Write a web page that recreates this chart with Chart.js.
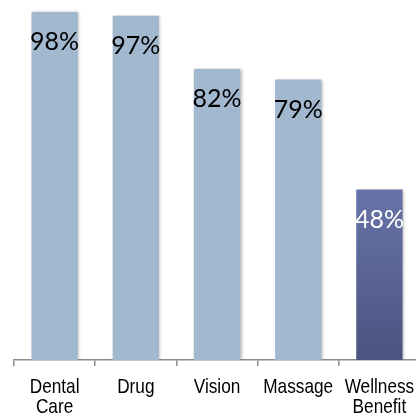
<!DOCTYPE html>
<html>
<head>
<meta charset="utf-8">
<script src="https://cdn.jsdelivr.net/npm/chart.js@4/dist/chart.umd.min.js"></script>
<style>
  html, body { margin: 0; padding: 0; background: #fff; overflow: hidden; }
  #chart { display: block; }
</style>
</head>
<body>
<canvas id="chart" width="420" height="420"></canvas>
<script>
// Chart data
const categories = [['Dental', 'Care'], ['Drug'], ['Vision'], ['Massage'], ['Wellness', 'Benefit']];
const percentValues = [98, 97, 82, 79, 48];
const valueLabels = ['98%', '97%', '82%', '79%', '48%'];
const highlightIndex = 4;

// Colors
const lightBar = '#a1b8cf';
const darkTop = '#6873a9';
const darkBottom = '#4a5480';

function barColor(context) {
    if (context.dataIndex !== highlightIndex) return lightBar;
    const chart = context.chart;
    const area = chart.chartArea;
    const yScale = chart.scales.y;
    if (!area || !yScale) return darkBottom;
    const top = yScale.getPixelForValue(percentValues[context.dataIndex]);
    if (!isFinite(top) || !isFinite(area.bottom)) return darkBottom;
    const grad = chart.ctx.createLinearGradient(0, top, 0, area.bottom);
    grad.addColorStop(0, darkTop);
    grad.addColorStop(1, darkBottom);
    return grad;
}

// Soft shadow behind bars
const barShadow = {
    id: 'barShadow',
    beforeDatasetDraw(chart) {
        const ctx = chart.ctx;
        ctx.save();
        ctx.shadowColor = 'rgba(0, 0, 0, 0.28)';
        ctx.shadowBlur = 3;
        ctx.shadowOffsetX = 1.5;
        ctx.shadowOffsetY = 0;
    },
    afterDatasetDraw(chart) {
        chart.ctx.restore();
    }
};

// Value labels inside the top of each bar
const valueLabelsPlugin = {
    id: 'valueLabels',
    afterDatasetsDraw(chart) {
        const ctx = chart.ctx;
        const meta = chart.getDatasetMeta(0);
        ctx.save();
        ctx.font = '25px Lato, "Open Sans", sans-serif';
        ctx.textAlign = 'center';
        ctx.textBaseline = 'middle';
        meta.data.forEach((bar, i) => {
            ctx.fillStyle = i === highlightIndex ? '#ffffff' : '#000000';
            ctx.fillText(valueLabels[i], bar.x, bar.y + 30);
        });
        ctx.restore();
    }
};

// Narrow category labels (Arial Narrow look: squeezed Liberation Sans)
const narrowTicks = {
    id: 'narrowTicks',
    afterDraw(chart) {
        const ctx = chart.ctx;
        const xScale = chart.scales.x;
        const base = xScale.top;
        ctx.save();
        ctx.fillStyle = '#000000';
        ctx.font = '21px "Liberation Sans", Arial, sans-serif';
        ctx.textAlign = 'center';
        ctx.textBaseline = 'alphabetic';
        categories.forEach((lines, i) => {
            const x = xScale.getPixelForTick(i);
            lines.forEach((line, j) => {
                ctx.save();
                ctx.translate(x, base + 33 + j * 20);
                ctx.scale(0.82, 1);
                ctx.fillText(line, 0, 0);
                ctx.restore();
            });
        });
        ctx.restore();
    }
};

const ctx = document.getElementById('chart').getContext('2d');

new Chart(ctx, {
    type: 'bar',
    data: {
        labels: categories,
        datasets: [{
            data: percentValues,
            backgroundColor: barColor,
            borderWidth: 0,
            categoryPercentage: 1,
            barPercentage: 0.57
        }]
    },
    options: {
        responsive: false,
        animation: false,
        devicePixelRatio: 1,
        layout: {
            padding: { left: 14, right: 0, top: 5, bottom: 54 }
        },
        plugins: {
            legend: { display: false },
            tooltip: { enabled: false }
        },
        scales: {
            y: {
                display: false,
                min: 0,
                max: 100
            },
            x: {
                grid: {
                    display: true,
                    drawOnChartArea: false,
                    drawTicks: true,
                    tickLength: 6,
                    color: '#8c8c8c',
                    lineWidth: 1.5
                },
                border: {
                    display: true,
                    color: '#8c8c8c',
                    width: 1.5
                },
                ticks: {
                    display: false
                }
            }
        }
    },
    plugins: [barShadow, valueLabelsPlugin, narrowTicks]
});
</script>
</body>
</html>
